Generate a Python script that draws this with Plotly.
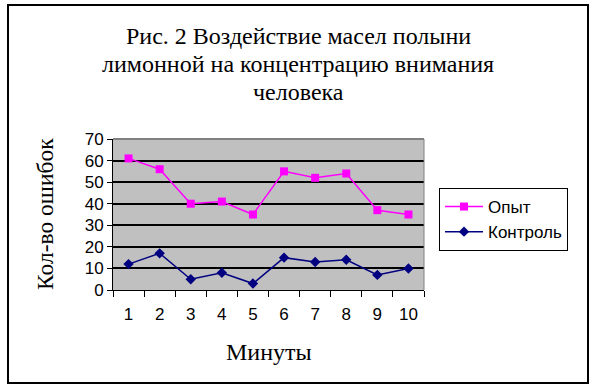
import plotly.graph_objects as go

minutes = ["1", "2", "3", "4", "5", "6", "7", "8", "9", "10"]
opyt = [61, 56, 40, 41, 35, 55, 52, 54, 37, 35]
kontrol = [12, 17, 5, 8, 3, 15, 13, 14, 7, 10]
y_ticks = [0, 10, 20, 30, 40, 50, 60, 70]
title_lines = ["Рис. 2 Воздействие масел полыни",
               "лимонной на концентрацию внимания",
               "человека"]

W, H = 593, 388
L, R, T, B = 113, 424, 139, 290
pw, ph = R - L, B - T

def px(x):
    return (x - L) / pw

def py(y):
    return (B - y) / ph

fig = go.Figure()
fig.add_trace(go.Scatter(x=minutes, y=opyt, name="Опыт", mode="lines+markers",
                         line=dict(color="#FF00FF", width=1.5),
                         marker=dict(symbol="square", size=8, color="#FF00FF")))
fig.add_trace(go.Scatter(x=minutes, y=kontrol, name="Контроль", mode="lines+markers",
                         line=dict(color="#000080", width=1.5),
                         marker=dict(symbol="diamond", size=8, color="#000080")))

fig.update_layout(
    width=W, height=H,
    margin=dict(l=L, r=W - R, t=T, b=H - B),
    paper_bgcolor="white", plot_bgcolor="#C0C0C0",
    showlegend=True,
    legend=dict(x=px(439), y=py(188), xanchor="left", yanchor="top",
                bordercolor="black", borderwidth=1, bgcolor="white",
                font=dict(family="Arial, Liberation Sans", size=17, color="black"),
                itemwidth=38, tracegroupgap=0),
    xaxis=dict(type="category", tickson="boundaries", ticks="outside", ticklen=6,
               tickcolor="black", showline=True, linecolor="black", linewidth=1,
               showgrid=False, range=[-0.5, 9.5], ticklabelstandoff=9,
               tickfont=dict(family="Arial, Liberation Sans", size=17, color="black")),
    yaxis=dict(range=[0, 70], tickvals=y_ticks, ticks="outside", ticklen=5,
               tickcolor="black", showline=True, linecolor="black", linewidth=1,
               gridcolor="black", gridwidth=2, zeroline=False,
               tickfont=dict(family="Arial, Liberation Sans", size=17, color="black")),
    font=dict(family="Liberation Serif", color="black"),
)

# plot area gray border (top/right)
fig.add_shape(type="line", xref="paper", yref="paper", x0=0, x1=1, y0=1, y1=1,
              line=dict(color="#808080", width=2), layer="above")
fig.add_shape(type="line", xref="paper", yref="paper", x0=1, x1=1, y0=0, y1=1,
              line=dict(color="#808080", width=1), layer="above")
# outer chart border
fig.add_shape(type="rect", xref="paper", yref="paper",
              x0=px(8), x1=px(588), y0=py(383), y1=py(5),
              line=dict(color="black", width=2), layer="above")

for i, (line, yc) in enumerate(zip(title_lines, [36, 64, 92])):
    fig.add_annotation(text=line, xref="paper", yref="paper", x=px(298), y=py(yc),
                       xanchor="center", yanchor="middle", showarrow=False,
                       font=dict(family="Liberation Serif", size=24, color="black"))
fig.add_annotation(text="Кол-во ошибок", textangle=-90, xref="paper", yref="paper",
                   x=px(45), y=py(214), xanchor="center", yanchor="middle", showarrow=False,
                   font=dict(family="Liberation Serif", size=23.5, color="black"))
fig.add_annotation(text="Минуты", xref="paper", yref="paper",
                   x=px(269), y=py(352), xanchor="center", yanchor="middle", showarrow=False,
                   font=dict(family="Liberation Serif", size=24, color="black"))

fig.write_html("out.html")
